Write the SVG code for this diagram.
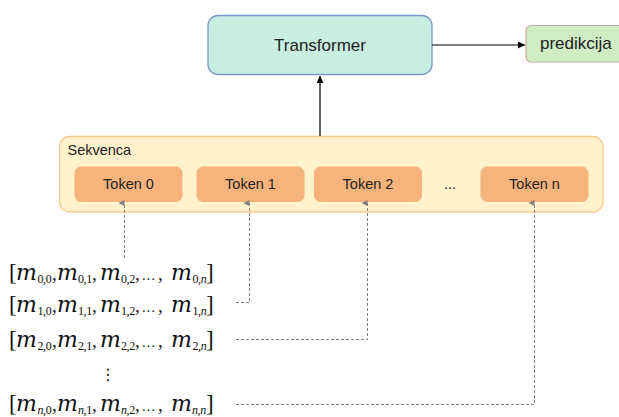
<svg xmlns="http://www.w3.org/2000/svg" width="619" height="417" viewBox="0 0 619 417">
<style>
.lbl{font-family:"Liberation Sans",Arial,sans-serif;fill:#222;}
.tok{fill:#f6b37c;stroke:#f6b37c;stroke-width:1;}
.m{font-family:"DejaVu Serif",serif;font-style:italic;font-size:22px;fill:#111;}
.s{font-family:"Liberation Serif",serif;font-size:12px;letter-spacing:-0.4px;fill:#111;}
.p{font-family:"Liberation Serif",serif;font-size:19px;fill:#111;}
.el{font-family:"Liberation Serif",serif;font-size:14px;fill:#111;}
.br{font-family:"Liberation Serif",serif;font-size:23px;fill:#111;}
.dash{fill:none;stroke:#808080;stroke-width:1;stroke-dasharray:3 2;}
.solid{fill:none;stroke:#000;stroke-width:1.2;}
</style>
<defs>
<marker id="ag" viewBox="0 0 6 6" refX="3" refY="6" markerWidth="6" markerHeight="6" markerUnits="userSpaceOnUse" orient="auto-start-reverse">
<path d="M0,6 L3,0 L6,6 Z" fill="#808080"/>
</marker>
<marker id="ab" viewBox="0 0 8 8" refX="8" refY="4" markerWidth="7" markerHeight="7" markerUnits="userSpaceOnUse" orient="auto">
<path d="M0,0 L8,4 L0,8 Z" fill="#000"/>
</marker>
</defs>

<g id="transformer">
<rect x="208" y="15.5" width="224" height="59" rx="10" fill="#c7eee1" stroke="#7b9ac6" stroke-width="1.3"/>
<text class="lbl" x="320" y="51" font-size="17" text-anchor="middle">Transformer</text>
</g>

<g id="predikcija">
<rect x="526" y="25.5" width="100" height="36.5" rx="5" fill="#d0ecc5" stroke="#caa8a2" stroke-width="1.2"/>
<text class="lbl" x="540" y="49" font-size="17">predikcija</text>
</g>

<g id="sekvenca">
<rect x="59.5" y="136.5" width="543.5" height="75.5" rx="10" fill="#fff2cc" stroke="#fcc993" stroke-width="1.3"/>
<text class="lbl" x="67.5" y="155" font-size="14.5">Sekvenca</text>
</g>

<g id="token0">
<rect class="tok" x="75" y="167" width="107" height="34.5" rx="6"/>
<text class="lbl" x="128.5" y="189" font-size="14.5" text-anchor="middle">Token 0</text>
</g>
<g id="token1">
<rect class="tok" x="197" y="167" width="107" height="34.5" rx="6"/>
<text class="lbl" x="250.5" y="189" font-size="14.5" text-anchor="middle">Token 1</text>
</g>
<g id="token2">
<rect class="tok" x="314.5" y="167" width="107" height="34.5" rx="6"/>
<text class="lbl" x="368" y="189" font-size="14.5" text-anchor="middle">Token 2</text>
</g>
<g id="ellipsis">
<text class="lbl" x="450" y="189" font-size="14.5" text-anchor="middle">...</text>
</g>
<g id="tokenn">
<rect class="tok" x="481" y="167" width="107" height="34.5" rx="6"/>
<text class="lbl" x="534.5" y="189" font-size="14.5" text-anchor="middle">Token n</text>
</g>

<g id="row0">
<text class="br" x="9" y="280">[</text>
<text class="m" x="16" y="280">m</text><text class="s" x="37.5" y="283">0,0</text><text class="p" x="52" y="280">,</text>
<text class="m" x="57" y="280">m</text><text class="s" x="78" y="283">0,1</text><text class="p" x="92" y="280">,</text>
<text class="m" x="100" y="280">m</text><text class="s" x="121" y="283">0,2</text><text class="p" x="135" y="280">,</text>
<text class="el" x="141.5" y="280">…</text><text class="p" x="158" y="280">,</text>
<text class="m" x="171" y="280">m</text><text class="s" x="192.5" y="283">0,<tspan font-style="italic">n</tspan></text>
<text class="br" x="206" y="280">]</text>
</g>
<g id="row1">
<text class="br" x="9" y="312">[</text>
<text class="m" x="16" y="312">m</text><text class="s" x="37.5" y="315">1,0</text><text class="p" x="52" y="312">,</text>
<text class="m" x="57" y="312">m</text><text class="s" x="78" y="315">1,1</text><text class="p" x="92" y="312">,</text>
<text class="m" x="100" y="312">m</text><text class="s" x="121" y="315">1,2</text><text class="p" x="135" y="312">,</text>
<text class="el" x="141.5" y="312">…</text><text class="p" x="158" y="312">,</text>
<text class="m" x="171" y="312">m</text><text class="s" x="192.5" y="315">1,<tspan font-style="italic">n</tspan></text>
<text class="br" x="206" y="312">]</text>
</g>
<g id="row2">
<text class="br" x="9" y="347">[</text>
<text class="m" x="16" y="347">m</text><text class="s" x="37.5" y="350">2,0</text><text class="p" x="52" y="347">,</text>
<text class="m" x="57" y="347">m</text><text class="s" x="78" y="350">2,1</text><text class="p" x="92" y="347">,</text>
<text class="m" x="100" y="347">m</text><text class="s" x="121" y="350">2,2</text><text class="p" x="135" y="347">,</text>
<text class="el" x="141.5" y="347">…</text><text class="p" x="158" y="347">,</text>
<text class="m" x="171" y="347">m</text><text class="s" x="192.5" y="350">2,<tspan font-style="italic">n</tspan></text>
<text class="br" x="206" y="347">]</text>
</g>
<g id="vdots">
<text x="108" y="380" font-family="DejaVu Sans,sans-serif" font-size="16" text-anchor="middle" fill="#111">⋮</text>
</g>
<g id="rown">
<text class="br" x="9" y="411">[</text>
<text class="m" x="16" y="411">m</text><text class="s" x="37.5" y="413.5"><tspan font-style="italic">n</tspan>,0</text><text class="p" x="52" y="411">,</text>
<text class="m" x="57" y="411">m</text><text class="s" x="78" y="413.5"><tspan font-style="italic">n</tspan>,1</text><text class="p" x="92" y="411">,</text>
<text class="m" x="100" y="411">m</text><text class="s" x="121" y="413.5"><tspan font-style="italic">n</tspan>,2</text><text class="p" x="135" y="411">,</text>
<text class="el" x="141.5" y="411">…</text><text class="p" x="158" y="411">,</text>
<text class="m" x="171" y="411">m</text><text class="s" x="192" y="413.5"><tspan font-style="italic">n</tspan>,<tspan font-style="italic">n</tspan></text>
<text class="br" x="206" y="411">]</text>
</g>

<g id="connectors">
<path class="solid" d="M432 45 H525" marker-end="url(#ab)"/>
<path class="solid" d="M320 136 V76" marker-end="url(#ab)"/>
<path class="dash" d="M124.5 258 V203" marker-end="url(#ag)"/>
<path class="dash" d="M236 302.5 H249.5 V203" marker-end="url(#ag)"/>
<path class="dash" d="M236 339.5 H367.5 V203" marker-end="url(#ag)"/>
<path class="dash" d="M236 404.5 H534.5 V203" marker-end="url(#ag)"/>
</g>
</svg>
